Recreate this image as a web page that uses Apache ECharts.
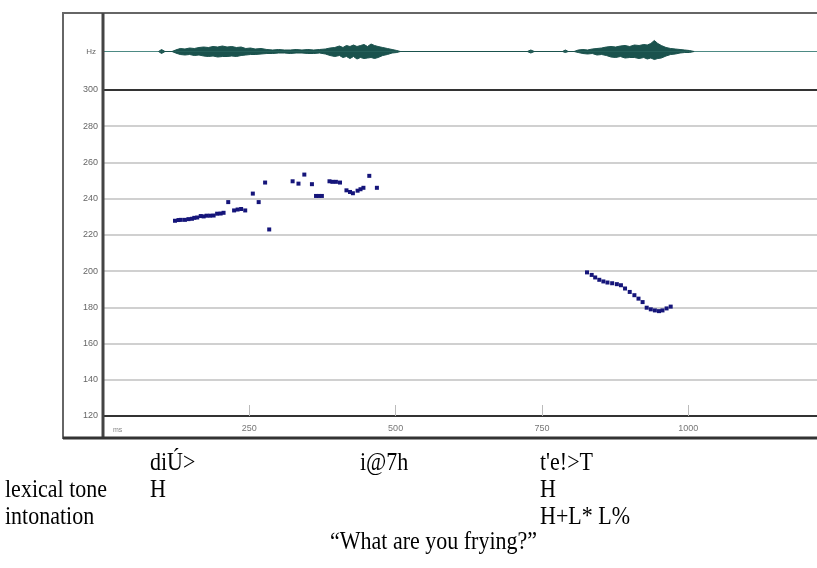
<!DOCTYPE html>
<html>
<head>
<meta charset="utf-8">
<script src="https://cdn.jsdelivr.net/npm/echarts@6/dist/echarts.min.js"></script>
<style>
  html, body { margin: 0; padding: 0; background: #fff; }
  #chart { width: 817px; height: 568px; }
</style>
</head>
<body>
<div id="chart"></div>
<script>
// pitch track (ms, Hz)
const pitchTime = [123, 129, 133, 140, 146, 152, 156, 161, 167, 172, 177, 183, 189, 195, 201, 206, 214, 224, 230, 236, 243, 256, 266, 277, 284,
  324, 334, 344, 357, 364, 369, 374, 387, 392, 398, 405, 416, 422, 427, 435, 440, 445, 455, 468,
  827, 835, 841, 848, 855, 862, 870, 878, 885, 892, 900, 908, 915, 922, 929, 936, 943, 950, 956, 963, 970];
const pitchHz = [227.8, 228.2, 228.3, 228.3, 228.7, 228.9, 229.4, 229.6, 230.4, 230.2, 230.6, 230.6, 230.7, 231.7, 231.8, 232.2, 238.1, 233.5, 234.0, 234.3, 233.5, 242.8, 238.1, 248.9, 223.0,
  249.6, 248.3, 253.3, 248.0, 241.5, 241.5, 241.5, 249.6, 249.3, 249.3, 248.9, 244.6, 243.7, 243.0, 244.4, 245.2, 246.0, 252.6, 246.0,
  199.3, 197.9, 196.5, 195.2, 194.3, 193.7, 193.3, 192.8, 192.2, 190.4, 188.5, 186.7, 184.8, 182.9, 179.8, 178.9, 178.3, 177.9, 178.3, 179.4, 180.4];

// waveform envelope (ms, px above / below the centre line)
const waveTime = [95, 100, 106, 118, 124, 132, 140, 148, 156, 164, 172, 180, 188, 196, 204, 212, 220, 228, 236, 244, 252, 260, 270, 280, 290, 300, 310, 320, 330, 340, 350, 360, 370, 380, 388, 396, 404, 410, 416, 422, 428, 434, 440, 446, 452, 458, 464, 470, 478, 486, 494, 502, 508,
  725, 731, 737, 785, 790, 795, 805, 812, 820, 828, 836, 844, 852, 860, 868, 876, 884, 892, 900, 908, 916, 924, 930, 936, 942, 948, 954, 962, 970, 978, 986, 994, 1002, 1010];
const waveUp = [0, 2, 0, 0, 1.5, 3, 2.5, 3.5, 3, 4, 4.5, 4, 5, 4.5, 5.5, 4.5, 5, 4, 4.5, 3, 3.5, 2.5, 3, 2, 1.5, 2, 1.5, 1.5, 2, 1.5, 2, 1.5, 2, 2.5, 3.5, 4, 5.5, 4, 6, 5, 6.5, 5, 6, 7, 5, 7.5, 6, 5, 4, 3, 2, 1, 0,
  0, 1.5, 0, 0, 1.5, 0, 0, 1.5, 2, 1.5, 2.5, 3, 3.5, 4.5, 5, 4.5, 5.5, 6, 5, 6.5, 6, 7, 6.5, 8, 11, 8, 6, 4, 3, 2.5, 2, 1.5, 1, 0];
const waveDown = [0, 2, 0, 0, 1.5, 3, 3.5, 3, 4, 3.5, 4.5, 5, 4.5, 5.5, 5, 5, 4.5, 5, 4, 3.5, 3, 3, 2.5, 2, 2, 1.5, 1.5, 2, 1.5, 1.5, 2, 2, 1.5, 2.5, 4, 5, 4, 6, 5, 7, 5, 7.5, 6, 7, 6.5, 6, 7, 6, 4, 3, 1.5, 1, 0,
  0, 1.5, 0, 0, 1, 0, 0, 1, 2, 2.5, 2, 3.5, 3, 4, 5.5, 6, 5, 6.5, 6, 6, 7, 6, 7.5, 6.5, 8, 7, 6.5, 4.5, 3, 2.5, 1.5, 1, 1, 0];

const words = ['diÚ>', 'i@7h', "t'e!>T"];
const rowLabels = ['lexical tone', 'intonation'];
const lexicalTones = ['H', '', 'H'];
const intonationTones = ['', '', 'H+L* L%'];
const gloss = '\u201CWhat are you frying?\u201D';

const chart = echarts.init(document.getElementById('chart'));

const serif = '22px "Liberation Serif", "Times New Roman", serif';
const wordX = [150, 360, 540];
const textEls = [];
function addText(str, x, y) {
  if (!str) return;
  textEls.push({ type: 'text', x: x, y: y, z: 10, scaleY: 1.14,
    style: { text: str, font: serif, fill: '#000', verticalAlign: 'middle' } });
}
words.forEach((w, i) => addText(w, wordX[i], 463));
addText(rowLabels[0], 5, 490);
lexicalTones.forEach((t, i) => addText(t, wordX[i], 490));
addText(rowLabels[1], 5, 517);
intonationTones.forEach((t, i) => addText(t, wordX[i], 517));
addText(gloss, 330, 542);

const option = {
  backgroundColor: '#fff',
  animation: false,
  grid: [
    { left: 103, right: 0, top: 90, height: 326 },
    { left: 103, right: 0, top: 14, height: 75 }
  ],
  xAxis: [
    {
      gridIndex: 0, type: 'value', min: 0, max: 1220, interval: 250, position: 'bottom',
      axisLine: { show: true, onZero: false, lineStyle: { color: '#333', width: 2 } },
      axisTick: { show: true, inside: true, length: 11, lineStyle: { color: '#bbb' } },
      axisLabel: { showMinLabel: false, showMaxLabel: false, color: '#777', fontSize: 9, margin: 8,
        formatter: v => String(v) },
      splitLine: { show: false }
    },
    {
      gridIndex: 0, type: 'value', min: 0, max: 1220, position: 'top',
      axisLine: { show: true, onZero: false, lineStyle: { color: '#333', width: 2 } },
      axisTick: { show: false }, axisLabel: { show: false }, splitLine: { show: false }
    },
    {
      gridIndex: 1, type: 'value', min: 0, max: 1220,
      axisLine: { show: true, onZero: true, lineStyle: { color: '#4d8a84', width: 1 } },
      axisTick: { show: false }, axisLabel: { show: false }, splitLine: { show: false }
    }
  ],
  yAxis: [
    {
      gridIndex: 0, type: 'value', min: 120, max: 300, interval: 20,
      axisLine: { show: false }, axisTick: { show: false },
      axisLabel: { color: '#666', fontSize: 9, margin: 5 },
      splitLine: { lineStyle: { color: '#d0d0d0', width: 2 } }
    },
    {
      gridIndex: 1, type: 'value', min: -37.5, max: 37.5, interval: 37.5,
      axisLine: { show: false }, axisTick: { show: false }, splitLine: { show: false },
      axisLabel: { color: '#666', fontSize: 8, margin: 7, formatter: v => (v === 0 ? 'Hz' : '') }
    }
  ],
  graphic: [
    { type: 'rect', shape: { x: 63, y: 13, width: 800, height: 425 },
      style: { fill: 'none', stroke: '#666', lineWidth: 2 }, z: 5 },
    { type: 'line', shape: { x1: 103, y1: 13, x2: 103, y2: 439 },
      style: { stroke: '#444', lineWidth: 3 }, z: 6 },
    { type: 'line', shape: { x1: 63, y1: 438, x2: 817, y2: 438 },
      style: { stroke: '#333', lineWidth: 3 }, z: 6 },
    { type: 'text', x: 113, y: 430, z: 6,
      style: { text: 'ms', font: '7px sans-serif', fill: '#888', verticalAlign: 'middle' } }
  ].concat(textEls),
  series: [
    {
      name: 'wave+', type: 'line', xAxisIndex: 2, yAxisIndex: 1,
      data: waveTime.map((t, i) => [t, waveUp[i]]),
      symbol: 'none', lineStyle: { color: '#1a524d', width: 1 },
      areaStyle: { color: '#1a524d', opacity: 1 }
    },
    {
      name: 'wave-', type: 'line', xAxisIndex: 2, yAxisIndex: 1,
      data: waveTime.map((t, i) => [t, -waveDown[i]]),
      symbol: 'none', lineStyle: { color: '#1a524d', width: 1 },
      areaStyle: { color: '#1a524d', opacity: 1 }
    },
    {
      name: 'F0', type: 'scatter', xAxisIndex: 0, yAxisIndex: 0,
      data: pitchTime.map((t, i) => [t, pitchHz[i]]),
      symbol: 'rect', symbolSize: 4,
      itemStyle: { color: '#15157a', opacity: 1 }
    }
  ]
};
chart.setOption(option);
window.addEventListener('resize', () => chart.resize());
</script>
</body>
</html>
